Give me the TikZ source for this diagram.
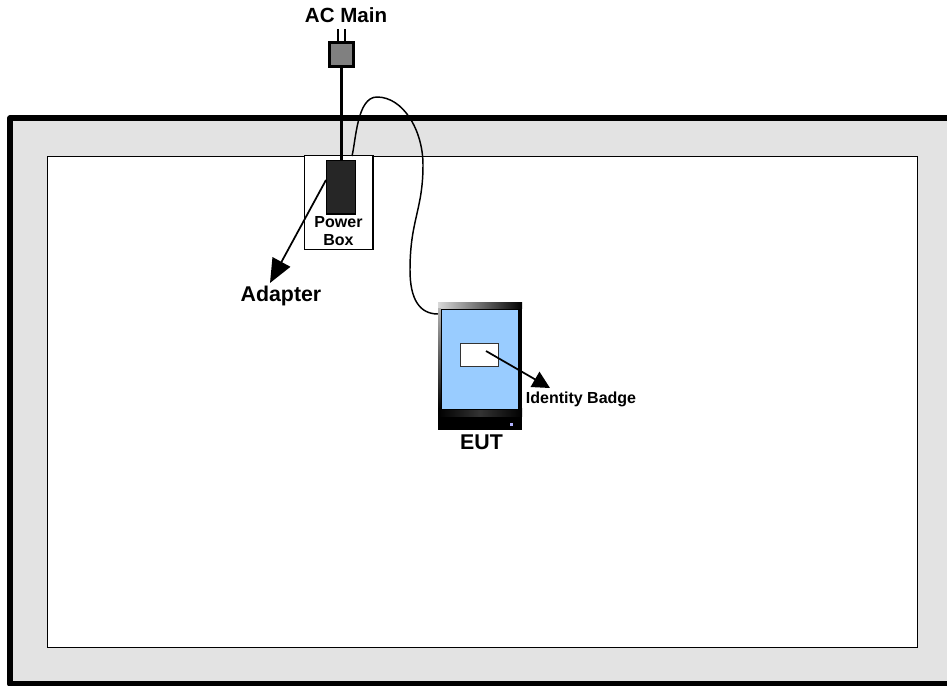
\documentclass[tikz,border=0pt]{standalone}
\usepackage{fontspec}
\setmainfont{Liberation Sans}
\usetikzlibrary{arrows.meta,positioning}
\tikzset{
  px/.style={x=0.75pt,y=-0.75pt},
  lab/.style={font=\bfseries\fontsize{#1}{#1}\selectfont,inner sep=0pt,text=black},
  box/.style={draw=black,line width=1.1pt,fill=white},
  leader/.style={draw=black,line width=1.3pt,-{Triangle[length=18pt,width=15pt]}},
  leaderb/.style={draw=black,line width=1.3pt,-{Triangle[length=13pt,width=13pt]}},
  cable/.style={draw=black,line width=1.1pt},
  cord/.style={draw=black,line width=2.6pt}
}
\begin{document}
\begin{tikzpicture}[px]
\useasboundingbox (0,0) rectangle (947,686);
% room
\path[draw=black,line width=3.8pt,line join=round,fill=black!11] (10,118) -- (960,118) -- (960,684) -- (10,684) -- cycle;
\node[box,minimum width=652.5pt,minimum height=368.5pt,inner sep=0pt,anchor=north west,line width=1.2pt] (room) at (46.5,155.5) {};
% power box
\node[box,anchor=north west,minimum width=51.5pt,minimum height=70.5pt,inner sep=0pt] (pbox) at (303.5,154.5) {};
% plug
\node[draw=black,line width=2.4pt,fill=black!50,minimum width=18pt,minimum height=18pt,inner sep=0pt,anchor=north west] (plug) at (328,41) {};
\coordinate (pa) at (338,29);
\coordinate (pb) at (345,29);
\draw[draw=black,line width=1.5pt] (pa) -- (pa |- plug.north);
\draw[draw=black,line width=1.5pt] (pb) -- (pb |- plug.north);
% adapter
\node[draw=black,line width=1.1pt,fill=black!85,anchor=north west,minimum width=22pt,minimum height=40pt,inner sep=0pt] (adapter) at (325.5,160) {};
\draw[cord] (plug.south) -- (plug.south |- adapter.north);
% EUT
\node[anchor=north west,minimum width=63pt,minimum height=96pt,inner sep=0pt,fill=black] (eut) at (438,302) {};
\fill[left color=white!85!black,right color=black] (eut.north west) rectangle ([xshift=63pt,yshift=-5.2pt]eut.north west);
\fill[top color=white!70!black,bottom color=black] ([yshift=-5.2pt]eut.north west) rectangle ([xshift=2.4pt,yshift=-80pt]eut.north west);
\fill[left color=black,right color=black,middle color=black!80] ([yshift=-80pt]eut.north west) rectangle ([xshift=63pt,yshift=-86pt]eut.north west);
\node[draw=black,line width=0.6pt,fill={rgb,255:red,153;green,204;blue,255},anchor=north west,minimum width=57.5pt,minimum height=75pt,inner sep=0pt] (screen) at (441,309) {};
\fill[blue!30!white] (510,423) rectangle (512.5,425.5);
\node[draw=black!80,line width=0.8pt,fill=white,anchor=north west,minimum width=28.5pt,minimum height=17.5pt,inner sep=0pt] (badge) at (460,343) {};
% thin cable
\draw[cable] (352,156) .. controls (356,140) and (357,97) .. (377,97)
  .. controls (403,97) and (423,130) .. (423,165)
  .. controls (423,210) and (410,220) .. (410,270)
  .. controls (410,300) and (420,314) .. (438,314);
% labels
\node[lab=15.4] (acm) at (346,15) {AC Main};
\node[lab=12,align=center] (pwr) at (338.5,233) {\strut Power\\[1.5pt]\strut Box};
\node[lab=16] (adl) at (281,296) {Adapter};
\node[lab=12] (idb) at (581,399) {Identity Badge};
\node[lab=16] (eutl) at (481.5,442) {EUT};
% leaders
\coordinate (a1) at (326,180);
\coordinate (a2) at (270,283);
\draw[leader] (a1) -- (a2);
\coordinate (b1) at (486,351);
\coordinate (b2) at (550,388);
\draw[leaderb] (b1) -- (b2);
\end{tikzpicture}
\end{document}
